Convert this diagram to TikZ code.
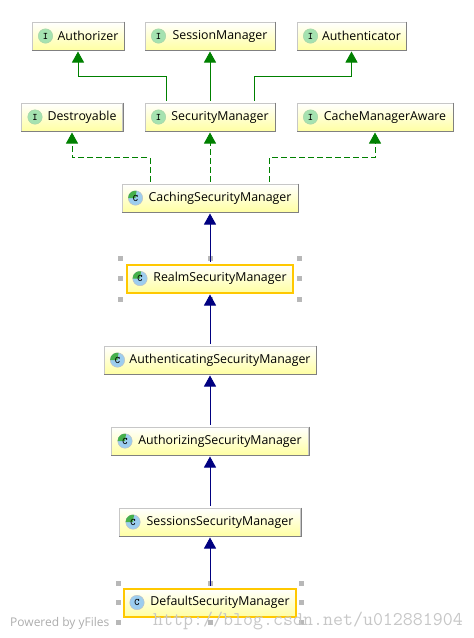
\documentclass[tikz,border=0pt]{standalone}
\usepackage{fontspec}
\setmainfont{Open Sans}
\usepackage{tikz}
\usetikzlibrary{arrows.meta, positioning}
\definecolor{impl}{HTML}{008000}
\definecolor{ext}{HTML}{000080}
\definecolor{sel}{HTML}{FFC800}
\definecolor{badgegreen}{HTML}{A5E2B0}
\definecolor{badgeblue}{HTML}{9CCDEF}
\definecolor{pie}{HTML}{46B04A}

\begin{document}
\begin{tikzpicture}[
  x=1pt, y=-1pt,
  box/.style={draw=black!22, line width=1pt, top color=white, bottom color=yellow!36,
              minimum height=28pt, inner sep=0pt,
              font=\fontsize{12.35}{14}\selectfont,
              execute at begin node={\hspace*{20pt}}},
  chosen/.style={box, draw=sel, line width=2pt},
  badge/.style={circle, minimum size=14.5pt, inner sep=0pt, font=\ttfamily\bfseries\fontsize{10}{10}\selectfont},
  ibadge/.style={badge, draw=impl!35, fill=badgegreen},
  cbadge/.style={badge, draw=black!25, fill=badgeblue},
  handle/.style={fill=black!28, minimum size=5pt, inner sep=0pt},
  shade line/.style={draw=black!50, line width=1pt},
  up/.style={-{Triangle[length=11pt, width=12pt]}, line width=.95pt, shorten >=1pt, shorten <=2pt},
  inh/.style={up, color=impl},
  dsh/.style={up, color=impl, dash pattern=on 6pt off 3pt, line width=.9pt},
  ext/.style={up, color=ext},
  mark text/.style={inner sep=0pt, anchor=base west}
]
  \useasboundingbox (0,0) rectangle (474,638);

  % interfaces
  \node[box, minimum width=92pt]  (authorizer)  at (78,36)    {Authorizer};
  \node[box, minimum width=130pt] (session)     at (210,36)   {SessionManager};
  \node[box, minimum width=109pt] (authn)       at (351.5,36) {Authenticator};
  \node[box, minimum width=101pt] (destroyable) at (72,117)   {Destroyable};
  \node[box, minimum width=130pt] (security)    at (210,117)  {SecurityManager};
  \node[box, minimum width=156pt] (cacheaware)  at (375,117)  {CacheManagerAware};

  % classes
  \node[box, minimum width=176pt]    (caching)  at (210,198)   {CachingSecurityManager};
  \node[chosen, minimum width=166pt] (realm)    at (210,278.5) {RealmSecurityManager};
  \node[box, minimum width=212pt]    (authing)  at (210,360)   {AuthenticatingSecurityManager};
  \node[box, minimum width=197pt]    (authzing) at (210,441)   {AuthorizingSecurityManager};
  \node[box, minimum width=181pt]    (sessions) at (210,522)   {SessionsSecurityManager};
  \node[chosen, minimum width=172pt] (default)  at (210,602.5) {DefaultSecurityManager};

  \foreach \n in {authorizer, session, authn, destroyable, security, cacheaware, caching, authing, authzing, sessions}
    \draw[shade line] (\n.north east) -- (\n.south east) -- (\n.south west);

  \foreach \n in {authorizer, session, authn, destroyable, security, cacheaware}
    \node[ibadge] (\n-badge) at ([xshift=14pt]\n.west) {I};
  \foreach \n in {caching, realm, authing, authzing, sessions} {
    \node[cbadge] (\n-badge) at ([xshift=14pt]\n.west) {};
    \fill[pie] (\n-badge.center) -- (\n-badge.west) arc[start angle=180, end angle=80, radius=7.25pt] -- cycle;
    \node[badge] at (\n-badge) {C};
  }
  \node[cbadge] (default-badge) at ([xshift=14pt]default.west) {C};

  % selection handles
  \foreach \n/\d in {realm/5.5, default/4.5}
    \foreach \a/\sx/\sy in {north west/-1/-1, north/0/-1, north east/1/-1, west/-1/0, east/1/0, south west/-1/1, south/0/1, south east/1/1}
      \node[handle] (\n-\a) at ([xshift=\sx*\d pt, yshift=-\sy*\d pt]\n.\a) {};

  % realizations
  \draw[inh] ([xshift=-44pt]security.north) -- ++(0,-26) -| (authorizer.south);
  \draw[inh] (security.north) -- (session.south);
  \draw[inh] ([xshift=44pt]security.north) -- ++(0,-26) -| (authn.south);
  \draw[dsh] ([xshift=-60pt]caching.north) -- ++(0,-26) -| (destroyable.south);
  \draw[dsh] (caching.north) -- (security.south);
  \draw[dsh] ([xshift=59pt]caching.north) -- ++(0,-26) -| (cacheaware.south);

  % inheritance
  \foreach \a/\b in {realm/caching, authing/realm, authzing/authing, sessions/authzing, default/sessions}
    \draw[ext] (\a.north) -- (\b.south);

  % footer marks
  \node[mark text, font=\fontsize{12}{12}\selectfont, text=black!32] (powered) at (10,626) {Powered by yFiles};
  \node[mark text, font=\ttfamily\fontsize{19.4}{20}\selectfont, text=black!22] (url) at (153,625) {http://blog.csdn.net/u012881904};
\end{tikzpicture}
\end{document}
